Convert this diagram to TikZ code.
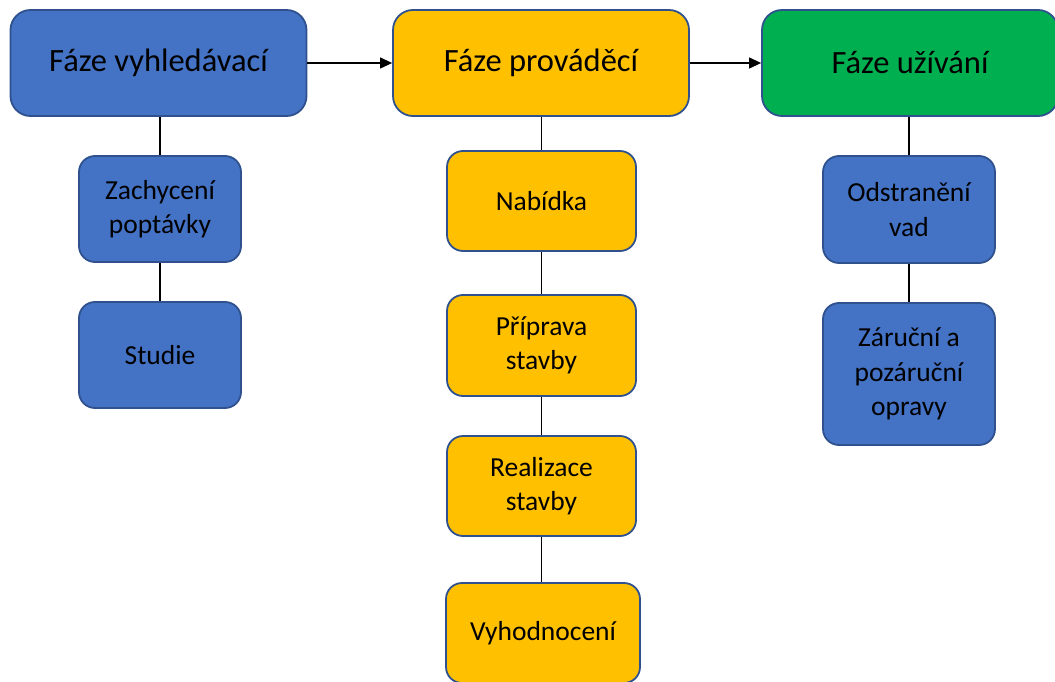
\documentclass[tikz,border=0pt]{standalone}
\usepackage{fontspec}
\setmainfont{Carlito}
\usetikzlibrary{arrows.meta}
\definecolor{phaseblue}{HTML}{4472C4}
\definecolor{phaseorange}{HTML}{FFC000}
\definecolor{phasegreen}{HTML}{00B050}
\definecolor{edgeblue}{HTML}{2F528F}
\tikzset{
  box/.style={draw=edgeblue, line width=1.8pt, rounded corners=16pt,
    inner sep=0pt, align=center, text=black,
    font=\fontsize{27.5}{34.5}\selectfont},
  phasebox/.style={box, rounded corners=20pt, minimum width=296pt,
    minimum height=106pt, font=\fontsize{32.5}{38}\selectfont},
  bluebox/.style={box, fill=phaseblue},
  orangebox/.style={box, fill=phaseorange},
  link/.style={draw=black, line width=1.2pt},
  flow/.style={link, -{Triangle[length=12pt,width=11pt]}}
}
\begin{document}
\begin{tikzpicture}[x=1pt, y=-1pt]
\useasboundingbox (0,0) rectangle (1055,682);
\clip (0,0) rectangle (1055,682);

% main phases
\node[phasebox, fill=phaseblue]   (search)  at (158.5,63) {Fáze vyhledávací};
\node[phasebox, fill=phaseorange] (build)   at (541,63)   {Fáze prováděcí};
\node[phasebox, fill=phasegreen]  (use)     at (910,63)   {Fáze užívání};

% search phase steps
\node[bluebox, minimum width=162pt, minimum height=106pt] (demand) at (160,209) {Zachycení\\poptávky};
\node[bluebox, minimum width=162pt, minimum height=106pt] (study)  at (160,355) {Studie};

% construction phase steps
\node[orangebox, minimum width=189pt, minimum height=100pt] (offer)   at (541.5,201) {Nabídka};
\node[orangebox, minimum width=189pt, minimum height=101pt] (prep)    at (541.5,345.5) {Příprava\\stavby};
\node[orangebox, minimum width=189pt, minimum height=100pt] (realize) at (541.5,486) {Realizace\\stavby};
\node[orangebox, minimum width=194pt, minimum height=100pt] (eval)    at (543,633) {Vyhodnocení};

% usage phase steps
\node[bluebox, minimum width=172pt, minimum height=107pt] (defects)  at (909,209.5) {Odstranění\\vad};
\node[bluebox, minimum width=172pt, minimum height=142pt] (warranty) at (909,374) {Záruční a\\pozáruční\\opravy};

% flow between phases
\draw[flow] (search) -- (build);
\draw[flow] (build) -- (use);

% vertical links
\draw[link] (search.south -| demand.north) -- (demand.north);
\draw[link] (demand) -- (study);
\draw[link] (build.south -| offer.north) -- (offer.north);
\draw[link] (offer) -- (prep);
\draw[link] (prep) -- (realize);
\draw[link] (realize.south) -- (realize.south |- eval.north);
\draw[link] (use.south -| defects.north) -- (defects.north);
\draw[link] (defects) -- (warranty);
\end{tikzpicture}
\end{document}
